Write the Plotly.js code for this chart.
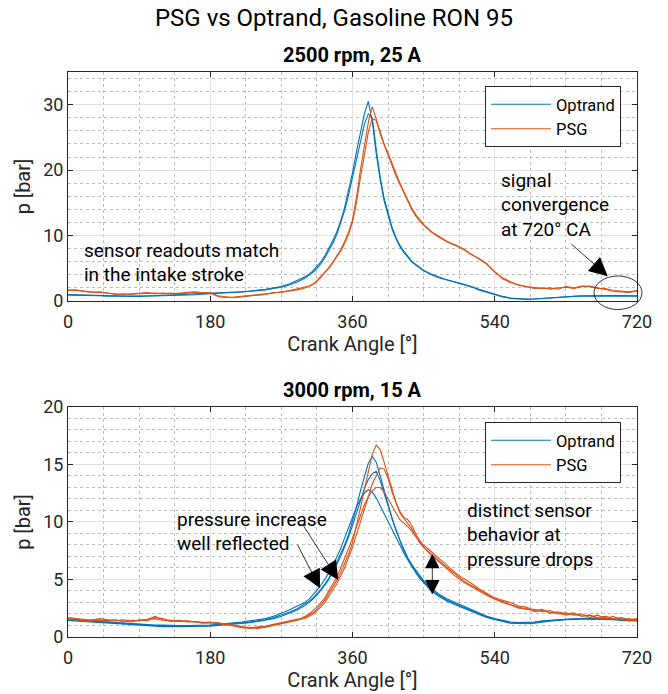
<!DOCTYPE html>
<html>
<head>
<meta charset="utf-8">
<script src="https://cdn.plot.ly/plotly-3.0.1.min.js"></script>
<style>html,body{margin:0;padding:0;background:#fff;}#chart{width:668px;height:694px;}</style>
</head>
<body>
<div id="chart"></div>
<script>
// Crank angle samples (deg)
const crankAngle = [0,10,20,30,40,50,60,70,80,90,100,110,120,130,140,150,160,170,180,190,200,210,220,230,240,250,260,270,280,290,
  300,305,310,315,320,325,330,335,340,345,350,355,360,365,370,375,380,385,390,395,400,405,410,415,420,425,430,435,440,445,450,
  460,470,480,490,500,510,520,530,540,550,560,570,580,590,600,610,620,630,640,650,660,670,680,690,700,710,720];

// 2500 rpm, 25 A
const optrand2500_c1 = [1.0,0.95,0.9,0.85,0.8,0.75,0.7,0.7,0.7,0.7,0.75,0.8,0.8,0.85,0.9,0.95,1.0,1.1,1.2,1.25,1.3,1.35,1.4,1.5,1.6,1.8,2.0,2.2,2.6,3.1,
  3.7,4.1,4.6,5.3,6.0,6.9,8.0,9.2,10.5,12.2,14.3,16.8,19.6,22.8,26.0,28.6,30.5,27.5,22.5,18.5,15.3,13.0,11.0,9.5,8.3,7.4,6.7,6.0,5.5,5.0,4.6,
  4.0,3.5,3.2,2.9,2.6,2.2,1.7,1.3,0.9,0.6,0.4,0.3,0.25,0.3,0.4,0.5,0.6,0.65,0.7,0.75,0.75,0.8,0.8,0.8,0.8,0.75,0.75];
const optrand2500_c2 = [0.9,0.9,0.85,0.8,0.8,0.75,0.75,0.7,0.7,0.7,0.7,0.75,0.8,0.85,0.85,0.9,0.95,1.05,1.15,1.2,1.25,1.3,1.4,1.45,1.55,1.7,1.9,2.1,2.45,2.9,
  3.5,3.9,4.4,5.0,5.7,6.6,7.6,8.8,10.1,11.8,13.8,16.2,18.9,21.8,24.6,27.0,28.6,28.0,23.2,19.0,15.7,13.3,11.3,9.7,8.5,7.6,6.8,6.1,5.6,5.1,4.7,
  4.1,3.6,3.2,2.9,2.6,2.2,1.8,1.4,1.0,0.7,0.45,0.35,0.3,0.3,0.4,0.5,0.6,0.7,0.75,0.8,0.8,0.85,0.85,0.85,0.85,0.8,0.8];
const psg2500_c1 = [1.7,1.6,1.5,1.4,1.3,1.2,1.1,1.0,1.1,1.2,1.3,1.1,1.2,1.1,1.2,1.3,1.4,1.3,1.2,0.7,0.5,0.6,0.7,0.8,1.0,1.1,1.2,1.4,1.5,1.7,
  2.0,2.2,2.5,3.1,3.8,4.4,5.0,5.8,6.9,7.8,9.1,10.5,12.4,15.8,20.0,24.0,27.3,29.7,27.8,25.7,24.0,22.6,21.0,19.3,18.0,16.7,15.4,14.2,13.2,12.4,11.7,
  10.6,9.8,9.1,8.6,8.0,7.2,6.4,5.6,4.4,3.4,2.8,2.5,2.3,1.9,2.0,1.8,2.0,2.1,1.9,2.2,2.3,2.0,1.8,1.5,1.4,1.3,1.5];
const psg2500_c2 = [1.6,1.7,1.5,1.3,1.4,1.2,1.0,1.1,1.0,1.1,1.2,1.2,1.1,1.2,1.1,1.2,1.3,1.2,1.3,0.8,0.6,0.5,0.6,0.8,0.9,1.0,1.3,1.3,1.6,1.8,
  2.1,2.3,2.6,3.0,3.6,4.3,5.1,5.9,6.7,7.6,8.8,10.2,12.0,15.0,18.8,22.5,25.8,27.9,27.6,25.5,23.8,22.4,20.7,19.1,17.8,16.5,15.2,14.0,13.0,12.2,11.6,
  10.5,9.7,9.0,8.5,7.9,7.1,6.5,5.7,4.5,3.5,2.9,2.4,2.2,2.0,1.9,2.0,1.8,2.2,2.0,2.3,2.2,1.9,1.9,1.6,1.5,1.4,1.6];

// 3000 rpm, 15 A
const optrand3000_c1 = [1.5,1.45,1.4,1.35,1.3,1.25,1.2,1.2,1.15,1.1,1.05,1.0,1.0,0.95,0.95,0.95,0.95,1.0,1.0,1.05,1.1,1.15,1.2,1.3,1.4,1.5,1.7,1.9,2.15,2.45,
  2.85,3.1,3.4,3.75,4.15,4.6,5.1,5.75,6.5,7.2,8.0,8.9,10.0,11.3,12.7,14.0,15.1,15.7,15.2,14.0,12.7,11.5,10.3,9.3,8.3,7.5,6.8,6.2,5.7,5.2,4.8,
  4.1,3.6,3.2,2.9,2.6,2.3,2.0,1.75,1.55,1.4,1.25,1.2,1.2,1.25,1.35,1.45,1.5,1.55,1.6,1.6,1.6,1.6,1.55,1.55,1.5,1.5,1.45];
const optrand3000_c2 = [1.45,1.4,1.35,1.3,1.25,1.2,1.15,1.1,1.1,1.05,1.0,0.95,0.9,0.9,0.9,0.9,0.9,0.95,0.95,1.0,1.05,1.1,1.15,1.25,1.35,1.45,1.6,1.8,2.05,2.35,
  2.75,3.0,3.3,3.65,4.05,4.5,5.0,5.6,6.3,7.0,7.8,8.7,9.7,10.8,11.9,12.9,13.7,14.2,14.4,13.6,12.5,11.4,10.3,9.3,8.4,7.6,6.9,6.3,5.8,5.3,4.9,
  4.2,3.7,3.3,3.0,2.7,2.4,2.1,1.8,1.6,1.45,1.3,1.25,1.25,1.3,1.4,1.45,1.5,1.55,1.6,1.65,1.65,1.6,1.6,1.55,1.55,1.5,1.5];
const optrand3000_c3 = [1.55,1.5,1.45,1.4,1.35,1.3,1.25,1.2,1.2,1.15,1.1,1.05,1.05,1.0,1.0,1.0,1.0,1.05,1.05,1.1,1.15,1.2,1.3,1.4,1.5,1.6,1.8,2.05,2.35,2.7,
  3.0,3.3,3.65,4.05,4.5,5.0,5.55,6.2,6.9,7.7,8.6,9.5,10.4,11.3,12.0,12.5,12.8,12.6,12.1,11.4,10.7,10.0,9.4,8.7,8.0,7.3,6.7,6.1,5.6,5.1,4.7,
  4.0,3.5,3.1,2.8,2.5,2.2,1.95,1.7,1.5,1.35,1.2,1.15,1.15,1.2,1.3,1.4,1.45,1.5,1.55,1.55,1.55,1.55,1.5,1.5,1.45,1.45,1.4];
const psg3000_c1 = [1.7,1.6,1.5,1.45,1.6,1.5,1.4,1.5,1.4,1.45,1.5,1.8,1.5,1.45,1.4,1.35,1.3,1.3,1.25,1.2,1.15,1.0,0.85,0.8,0.85,0.95,1.1,1.25,1.4,1.55,
  1.7,1.9,2.1,2.4,2.8,3.2,3.8,4.3,4.9,5.6,6.4,7.2,8.2,9.6,11.2,12.8,14.4,15.9,16.7,16.3,15.2,14.0,12.8,11.7,10.9,10.4,10.2,9.7,9.0,8.4,8.0,
  7.4,6.8,6.2,5.6,5.1,4.7,4.2,3.8,3.4,3.2,3.0,2.7,2.6,2.3,2.4,2.1,2.2,2.0,2.1,1.8,1.9,1.7,1.8,1.6,1.7,1.5,1.6];
const psg3000_c2 = [1.6,1.55,1.45,1.5,1.4,1.45,1.5,1.35,1.45,1.4,1.55,1.6,1.45,1.4,1.35,1.4,1.3,1.25,1.3,1.15,1.1,0.95,0.8,0.75,0.8,0.9,1.05,1.2,1.35,1.5,
  1.6,1.8,2.0,2.3,2.6,3.0,3.5,4.0,4.6,5.3,6.0,6.9,7.8,8.9,10.0,11.2,12.3,13.3,14.0,14.7,14.6,13.8,12.6,11.6,10.8,10.3,9.9,9.4,8.8,8.2,7.8,
  7.2,6.6,6.0,5.5,4.9,4.5,4.1,3.7,3.3,3.1,2.8,2.6,2.4,2.4,2.2,2.3,2.0,2.1,1.9,2.0,1.7,1.9,1.6,1.8,1.5,1.6,1.4];
const psg3000_c3 = [1.5,1.6,1.4,1.4,1.5,1.35,1.45,1.4,1.3,1.5,1.4,1.7,1.6,1.35,1.45,1.3,1.35,1.2,1.2,1.25,1.05,1.05,0.9,0.85,0.75,0.85,1.0,1.15,1.3,1.45,
  1.8,2.0,2.3,2.6,3.0,3.4,4.0,4.6,5.2,6.0,6.8,7.7,8.6,9.6,10.6,11.5,12.2,12.7,13.0,13.0,12.6,12.0,11.3,10.7,10.2,9.9,9.6,9.2,8.7,8.2,7.8,
  7.1,6.5,5.9,5.3,4.8,4.4,4.0,3.6,3.3,3.0,2.8,2.5,2.5,2.2,2.3,2.1,2.1,1.9,2.0,1.8,1.9,1.6,1.7,1.5,1.6,1.4,1.5];

const xTicks = [0,180,360,540,720];
const seriesNames = ['Optrand','PSG'];
const subplotTitles = ['2500 rpm, 25 A','3000 rpm, 15 A'];

const BLUE = '#0072BD', ORANGE = '#D95319';
const FONT = 'Roboto, "Liberation Sans", Arial, sans-serif';

function tr(y, name, color, xa, ya, leg, show) {
  return {x: crankAngle, y: y, type: 'scatter', mode: 'lines', name: name,
    line: {color: color, width: 1.1}, xaxis: xa, yaxis: ya,
    legend: leg, legendgroup: leg + name, showlegend: show};
}

const data = [
  tr(optrand2500_c1, seriesNames[0], BLUE, 'x', 'y', 'legend', true),
  tr(optrand2500_c2, seriesNames[0], BLUE, 'x', 'y', 'legend', false),
  tr(psg2500_c1, seriesNames[1], ORANGE, 'x', 'y', 'legend', true),
  tr(psg2500_c2, seriesNames[1], ORANGE, 'x', 'y', 'legend', false),
  tr(optrand3000_c1, seriesNames[0], BLUE, 'x2', 'y2', 'legend2', true),
  tr(optrand3000_c2, seriesNames[0], BLUE, 'x2', 'y2', 'legend2', false),
  tr(optrand3000_c3, seriesNames[0], BLUE, 'x2', 'y2', 'legend2', false),
  tr(psg3000_c1, seriesNames[1], ORANGE, 'x2', 'y2', 'legend2', true),
  tr(psg3000_c2, seriesNames[1], ORANGE, 'x2', 'y2', 'legend2', false),
  tr(psg3000_c3, seriesNames[1], ORANGE, 'x2', 'y2', 'legend2', false)
];

const AX = '#262626';
function xax(anchor) {
  return {anchor: anchor, domain: [0, 1], range: [0, 720], tickvals: xTicks, ticktext: xTicks.map(String),
    ticks: 'inside', ticklen: 5, tickcolor: AX, tickwidth: 1, showline: true, linecolor: AX, linewidth: 1,
    mirror: 'ticks', showgrid: true, gridcolor: '#e2e2e2', gridwidth: 1, zeroline: false,
    tickfont: {family: FONT, size: 18, color: AX}, ticklabelstandoff: 4,
    minor: {dtick: 45, tick0: 0, showgrid: true, gridcolor: '#bdbdbd', griddash: 'dot', gridwidth: 1},
    title: {text: 'Crank Angle [°]', font: {family: FONT, size: 20, color: AX}, standoff: 5},
    automargin: false, fixedrange: true};
}
function yax(anchor, dom, top, dt, mdt) {
  return {anchor: anchor, domain: dom, range: [0, top], dtick: dt, tick0: 0,
    ticks: 'inside', ticklen: 5, tickcolor: AX, tickwidth: 1, showline: true, linecolor: AX, linewidth: 1,
    mirror: 'ticks', showgrid: true, gridcolor: '#e2e2e2', gridwidth: 1, zeroline: false,
    tickfont: {family: FONT, size: 18, color: AX},
    minor: {dtick: mdt, tick0: 0, showgrid: true, gridcolor: '#bdbdbd', griddash: 'dot', gridwidth: 1},
    title: {text: 'p [bar]', font: {family: FONT, size: 20, color: AX}, standoff: 7},
    automargin: false, fixedrange: true};
}

const legendStyle = (y) => ({x: 0.9719, xanchor: 'right', y: y, yanchor: 'top',
  bordercolor: AX, borderwidth: 1, bgcolor: '#ffffff', font: {family: FONT, size: 16.5, color: '#000'},
  itemwidth: 60, tracegroupgap: 0, traceorder: 'normal'});

const txt = (t, x, y, xr, yr, extra) => Object.assign({text: t, x: x, y: y, xref: xr, yref: yr,
  showarrow: false, xanchor: 'left', yanchor: 'middle', font: {family: FONT, size: 19, color: '#000'}}, extra || {});
const arrow = (x, y, ax, ay, xr, yr, extra) => Object.assign({text: '', x: x, y: y, ax: ax, ay: ay,
  xref: xr, yref: yr, axref: xr, ayref: yr, showarrow: true, arrowhead: 2, arrowsize: 4.6,
  arrowwidth: 0.8, arrowcolor: '#000'}, extra || {});

const layout = {
  width: 668, height: 694, margin: {l: 68, r: 31, t: 72, b: 57},
  paper_bgcolor: '#fff', plot_bgcolor: '#fff',
  font: {family: FONT, color: AX},
  title: {text: 'PSG vs Optrand, Gasoline RON 95', font: {family: FONT, size: 24, color: '#000'},
    x: 0.5, xref: 'container', y: 1 - 18/694, yref: 'container', yanchor: 'middle'},
  xaxis: xax('y'),
  yaxis: yax('x', [0.5947, 1], 35, 10, 2),
  xaxis2: xax('y2'),
  yaxis2: yax('x2', [0, 0.4071], 20, 5, 1),
  legend: legendStyle(0.9752),
  legend2: legendStyle(0.3805),
  showlegend: true,
  shapes: [
    {type: 'circle', xref: 'paper', yref: 'paper', x0: 0.9244, x1: 1.0088, y0: 0.5796, y1: 0.639,
      line: {color: '#000', width: 0.8}}
  ],
  annotations: [
    {text: '<b>' + subplotTitles[0] + '</b>', x: 0.5, y: 1.0301, xref: 'paper', yref: 'paper', showarrow: false,
      xanchor: 'center', yanchor: 'middle', font: {family: FONT, size: 20, color: '#000'}},
    {text: '<b>' + subplotTitles[1] + '</b>', x: 0.5, y: 0.4372, xref: 'paper', yref: 'paper', showarrow: false,
      xanchor: 'center', yanchor: 'middle', font: {family: FONT, size: 20, color: '#000'}},
    txt('sensor readouts match', 17.7, 7.66, 'x', 'y'),
    txt('in the intake stroke', 17.7, 3.98, 'x', 'y'),
    txt('signal', 545.4, 18.4, 'x', 'y'),
    txt('convergence', 545.4, 14.7, 'x', 'y'),
    txt('at 720° CA', 545.4, 11.0, 'x', 'y'),
    txt('pressure increase', 135.4, 10.26, 'x2', 'y2'),
    txt('well reflected', 135.4, 8.17, 'x2', 'y2'),
    txt('distinct sensor', 502.3, 11.04, 'x2', 'y2'),
    txt('behavior at', 502.3, 8.87, 'x2', 'y2'),
    txt('pressure drops', 502.3, 6.7, 'x2', 'y2'),
    arrow(683, 3.8, 635, 8.9, 'x', 'y'),
    arrow(319, 4.23, 289.4, 8.15, 'x2', 'y2'),
    arrow(342, 4.96, 295.8, 9.9, 'x2', 'y2'),
    arrow(461, 3.7, 461, 7.35, 'x2', 'y2', {arrowside: 'end+start', startarrowhead: 2, arrowsize: 3.6, startarrowsize: 3.6})
  ]
};

Plotly.newPlot('chart', data, layout, {staticPlot: true, displayModeBar: false});
</script>
</body>
</html>
